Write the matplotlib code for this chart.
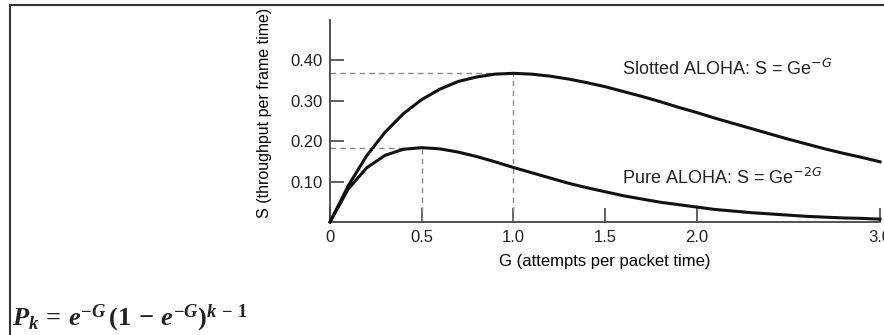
import matplotlib.pyplot as plt
from matplotlib.lines import Line2D

# valores (G, S)
G = [0.0, 0.1, 0.2, 0.3, 0.4, 0.5, 0.6, 0.7, 0.8, 0.9, 1.0,
     1.1, 1.2, 1.3, 1.4, 1.5, 1.6, 1.7, 1.8, 1.9, 2.0,
     2.1, 2.2, 2.3, 2.4, 2.5, 2.6, 2.7, 2.8, 2.9, 3.0]
slotted = [0.0, 0.090, 0.164, 0.222, 0.268, 0.303, 0.329, 0.348, 0.359, 0.366, 0.368,
           0.366, 0.361, 0.354, 0.345, 0.335, 0.323, 0.311, 0.298, 0.284, 0.271,
           0.257, 0.244, 0.231, 0.218, 0.205, 0.193, 0.181, 0.170, 0.160, 0.149]
pure = [0.0, 0.082, 0.134, 0.165, 0.180, 0.184, 0.181, 0.173, 0.162, 0.149, 0.135,
        0.122, 0.109, 0.096, 0.085, 0.075, 0.065, 0.057, 0.049, 0.043, 0.037,
        0.031, 0.027, 0.023, 0.020, 0.017, 0.014, 0.012, 0.010, 0.009, 0.007]

peaks = [(1.0, 0.368), (0.5, 0.184)]

xticks = [0, 0.5, 1.0, 1.5, 2.0, 3.0]
xtick_labels = ['0', '0.5', '1.0', '1.5', '2.0', '3.0']
yticks = [0.10, 0.20, 0.30, 0.40]
ytick_labels = ['0.10', '0.20', '0.30', '0.40']

plt.rcParams['font.family'] = ['Liberation Sans', 'DejaVu Sans']
plt.rcParams['text.color'] = '#222222'
plt.rcParams['xtick.labelcolor'] = '#222222'
plt.rcParams['ytick.labelcolor'] = '#222222'
# fuente para la formula de abajo
plt.rcParams['mathtext.fontset'] = 'custom'
plt.rcParams['mathtext.it'] = 'Liberation Serif:italic:bold'
plt.rcParams['mathtext.rm'] = 'Liberation Serif:bold'
plt.rcParams['mathtext.bf'] = 'Liberation Serif:bold'

fig = plt.figure(figsize=(8.84, 3.35), dpi=100)
ax = fig.add_axes([330 / 884, 113 / 335, 550 / 884, 202 / 335])

# marco de la imagen (arriba e izquierda)
fig.add_artist(Line2D([10 / 884, 1], [1 - 5 / 335, 1 - 5 / 335], color='#333333', lw=1.5))
fig.add_artist(Line2D([10 / 884, 10 / 884], [0, 1 - 5 / 335], color='#333333', lw=1.5))

ax.plot(G, slotted, color='#111111', lw=2.2, clip_on=False, zorder=3)
ax.plot(G, pure, color='#111111', lw=2.2, clip_on=False, zorder=3)

for gx, sy in peaks:
    ax.plot([0, gx], [sy, sy], color='#888888', ls=(0, (4, 3)), lw=1)
    ax.plot([gx, gx], [0, sy], color='#888888', ls=(0, (4, 3)), lw=1)

ax.set_xlim(0, 3.0)
ax.set_ylim(0, 0.5)
ax.set_xticks(xticks)
ax.set_xticklabels(xtick_labels, fontsize=12)
ax.set_yticks(yticks)
ax.set_yticklabels(ytick_labels, fontsize=12)
ax.tick_params(direction='in', length=10, width=1.2, color='#444444', pad=5)
ax.tick_params(axis='x', pad=6)

for s in ['top', 'right']:
    ax.spines[s].set_visible(False)
for s in ['left', 'bottom']:
    ax.spines[s].set_color('#444444')
    ax.spines[s].set_linewidth(1.3)

ax.set_xlabel('G (attempts per packet time)', fontsize=12, labelpad=6)
ax.set_ylabel('S (throughput per frame time)', fontsize=11.5)
ax.yaxis.set_label_coords(-58 / 550, 109 / 202)

ax.text(1.59, 0.38, 'Slotted ALOHA: S = Ge$^{-G}$', fontsize=13, va='center',
        math_fontfamily='dejavusans')
ax.text(1.59, 0.109, 'Pure ALOHA: S = Ge$^{-2G}$', fontsize=13, va='center',
        math_fontfamily='dejavusans')

fig.text(12 / 884, 1 - 318 / 335, r'$P_k\,=\,e^{-G}\,(1\,-\,e^{-G})^{k\,-\,1}$',
         fontsize=19, va='center', math_fontfamily='custom')

fig.savefig('out.png', dpi=100)
